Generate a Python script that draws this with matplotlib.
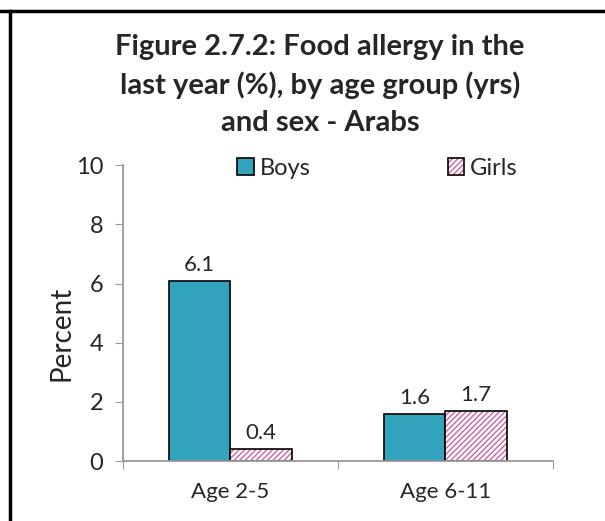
import matplotlib.pyplot as plt
import numpy as np
from matplotlib.lines import Line2D
from matplotlib.legend_handler import HandlerTuple

plt.rcParams['font.family'] = ['Lato', 'DejaVu Sans']

groups = ['Age 2-5', 'Age 6-11']
boys = [6.1, 1.6]
girls = [0.4, 1.7]

teal = '#31A3BC'
pink = '#D15FA8'

fig = plt.figure(figsize=(6.05, 5.21), dpi=100)
ax = fig.add_axes([0.203, 0.115, 0.711, 0.568])

x = np.arange(len(groups))
w = 0.285
b1 = ax.bar(x - w / 2, boys, w, color=teal, edgecolor='black', linewidth=1.2)
b2 = ax.bar(x + w / 2, girls, w, color='white', edgecolor=pink, hatch='//////', linewidth=0)
b3 = ax.bar(x + w / 2, girls, w, fill=False, edgecolor='black', linewidth=1.2)

for xi, v in zip(x - w / 2, boys):
    ax.text(xi, v + 0.2, f'{v:.1f}', ha='center', va='bottom', fontsize=16, color='#262626')
for xi, v in zip(x + w / 2, girls):
    ax.text(xi, v + 0.2, f'{v:.1f}', ha='center', va='bottom', fontsize=16, color='#262626')

ax.set_xlim(-0.5, 1.5)
ax.set_ylim(0, 10)
ax.set_yticks([0, 2, 4, 6, 8, 10])
ax.set_xticks([-0.5, 0.5, 1.5], minor=False)
ax.set_xticklabels(['', '', ''])
ax.set_xticks(x, minor=True)
ax.set_xticklabels(groups, minor=True)
ax.tick_params(axis='x', which='minor', length=0, labelsize=16, colors='#262626', pad=15)
ax.tick_params(axis='x', which='major', length=6, color='#999999')
ax.tick_params(axis='y', length=6, color='#999999', labelsize=17, labelcolor='#262626', pad=8)
for s in ['top', 'right']:
    ax.spines[s].set_visible(False)
for s in ['left', 'bottom']:
    ax.spines[s].set_color('#999999')
    ax.spines[s].set_linewidth(1.3)
ax.set_ylabel('Percent', fontsize=20, color='#262626')
ax.yaxis.set_label_coords(-0.112, 0.43)

ax.legend([b1[0], (b2[1], b3[1])], ['Boys', 'Girls'],
          handler_map={tuple: HandlerTuple(ndivide=1, pad=0)},
          loc='center', bbox_to_anchor=(0.592, 0.99), ncol=2, frameon=False,
          fontsize=17, handlelength=0.7, handleheight=0.7, handletextpad=0.25,
          columnspacing=5.8, labelcolor='#262626')

fig.text(0.529, 0.934, 'Figure 2.7.2: Food allergy in the\nlast year (%), by age group (yrs)\nand sex - Arabs',
         ha='center', va='top', fontsize=21, fontweight='bold', color='#262626', linespacing=1.5)

fig.add_artist(Line2D([0, 1], [1 - 10.5 / 521] * 2, transform=fig.transFigure, color='black', lw=2.5))
fig.add_artist(Line2D([9.5 / 605] * 2, [0, 1 - 10.5 / 521], transform=fig.transFigure, color='black', lw=2.5))

fig.savefig('out.png', dpi=100)
